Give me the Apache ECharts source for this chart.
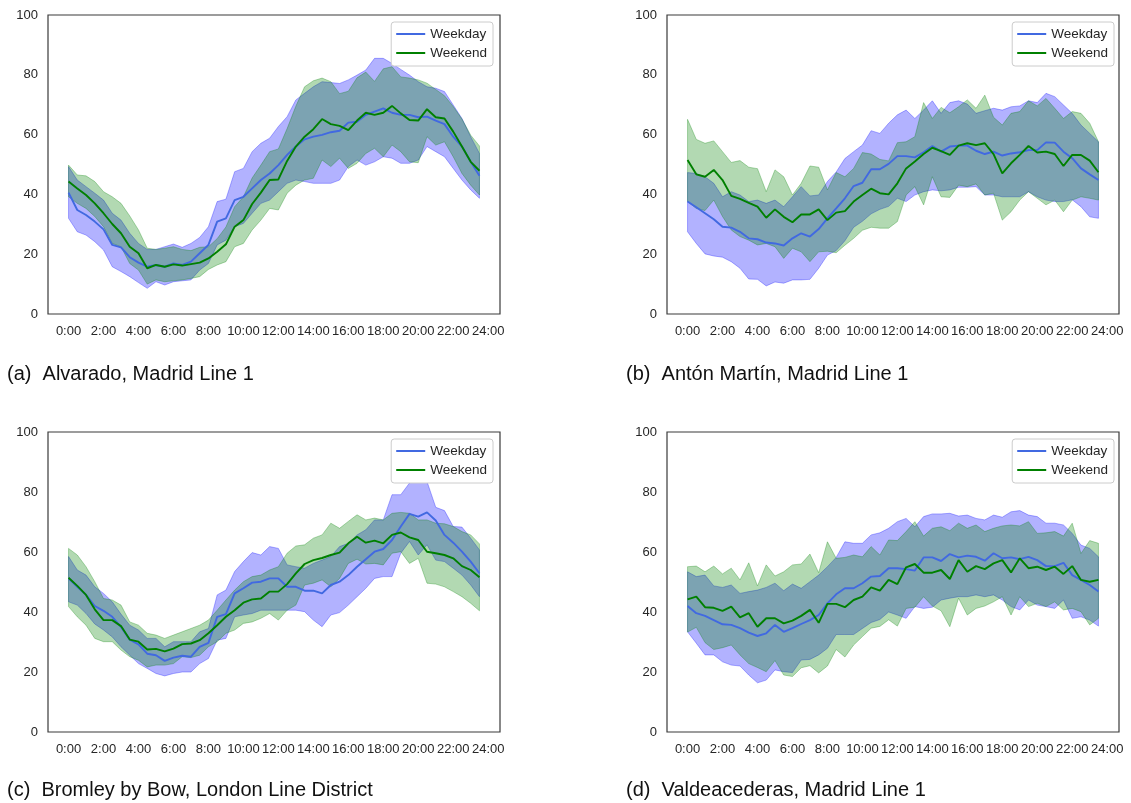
<!DOCTYPE html>
<html>
<head>
<meta charset="utf-8">
<script src="https://cdn.jsdelivr.net/npm/echarts@6/dist/echarts.min.js"></script>
<style>
html,body{margin:0;padding:0;background:#fff;}
#chart{width:1131px;height:803px;}
</style>
</head>
<body>
<div id="chart"></div>
<script>
// x tick labels (every 4 half-hour slots = 2 h)
const hourLabels = ['0:00','2:00','4:00','6:00','8:00','10:00','12:00','14:00','16:00','18:00','20:00','22:00','24:00'];
const captions = ['(a)  Alvarado, Madrid Line 1','(b)  Antón Martín, Madrid Line 1','(c)  Bromley by Bow, London Line District','(d)  Valdeacederas, Madrid Line 1'];

// Panel (a)
const aWdMean = [40.6,34.8,33.1,30.9,28.3,23.1,22.3,19.0,17.2,15.8,16.4,15.8,16.9,16.4,17.5,20.3,23.1,30.9,32.0,38.1,39.2,42.0,44.8,47.0,49.8,53.2,56.0,58.4,59.3,59.9,60.8,61.3,64.0,64.3,66.6,67.7,68.8,67.3,66.6,66.6,65.8,66.0,64.7,63.5,59.3,56.0,50.9,46.2];
const aWdLow  = [32.0,27.5,26.4,24.2,21.4,15.8,14.2,12.5,10.5,8.6,10.8,9.7,10.8,11.1,11.4,14.7,16.9,23.1,24.7,29.2,30.3,33.7,37.0,38.1,40.9,43.7,44.8,44.3,43.7,43.7,43.7,44.8,49.3,51.5,49.8,50.9,52.6,52.1,50.4,50.4,51.5,56.0,54.3,52.6,48.7,44.8,41.5,38.7];
const aWdHigh = [49.3,44.8,42.6,40.4,38.1,33.7,31.4,27.0,23.6,21.6,21.6,22.5,23.4,22.3,23.6,25.6,29.2,37.6,38.4,47.6,48.7,54.3,57.1,58.8,62.7,66.0,71.6,73.8,76.0,77.7,77.4,77.1,78.3,79.9,81.6,85.5,85.5,83.8,81.8,79.9,77.7,76.0,75.5,74.4,69.9,65.4,59.3,53.7];
const aWeMean = [44.3,42.0,39.8,37.0,33.7,30.1,27.0,22.5,20.3,15.3,16.4,15.8,16.6,16.2,16.7,17.2,18.6,20.8,23.3,29.2,31.4,36.8,40.6,44.8,45.0,51.2,56.0,59.3,61.8,65.2,63.5,62.9,61.5,64.7,67.3,66.6,67.3,69.6,67.1,64.9,64.7,68.5,65.8,65.4,61.0,56.0,50.9,47.9];
const aWeLow  = [39.2,37.0,35.3,32.6,29.2,23.6,22.5,16.9,14.7,10.0,11.4,10.8,11.1,11.4,11.9,12.5,14.9,16.4,17.5,22.5,23.6,28.1,31.4,35.3,34.8,40.4,43.1,44.8,45.4,51.5,49.3,52.1,48.7,50.4,53.7,55.4,52.6,56.5,54.3,50.9,50.6,59.3,56.5,57.6,52.6,47.0,43.1,39.8];
const aWeHigh = [49.8,46.5,46.2,44.3,40.9,39.2,37.0,32.8,28.1,22.0,21.6,22.0,22.5,21.6,21.2,22.3,22.5,25.2,29.1,35.9,39.2,45.5,49.8,54.3,55.2,62.0,69.5,76.0,78.0,78.9,77.7,73.7,74.5,79.0,80.9,77.8,82.0,82.7,79.3,78.9,78.3,77.2,75.1,73.0,69.4,65.2,59.8,56.2];

// Panel (b)
const bWdMean = [37.6,35.7,33.7,31.7,29.2,28.9,27.5,25.3,25.0,23.9,23.6,22.9,25.3,27.0,25.9,28.4,32.0,35.3,38.7,42.8,43.9,48.4,48.4,50.2,52.8,52.8,52.4,54.1,56.2,54.3,56.0,56.3,56.3,54.6,53.5,54.3,53.0,53.7,54.1,54.8,54.8,57.4,57.3,54.3,52.1,48.7,46.7,44.8];
const bWdLow  = [27.5,23.6,20.1,19.4,19.0,17.5,15.3,11.7,11.6,9.4,10.7,10.3,11.4,11.4,11.6,15.3,19.7,21.2,24.5,29.0,31.0,33.5,35.0,36.0,38.7,37.6,39.8,40.9,41.5,41.2,41.5,42.4,42.4,42.6,39.8,39.8,39.2,39.2,39.2,40.9,39.2,38.1,37.6,37.6,38.2,35.9,32.5,32.0];
const bWdHigh = [47.3,47.0,45.9,43.7,39.2,40.9,39.8,37.6,38.1,37.0,38.1,35.9,39.2,42.6,39.5,39.8,44.3,47.5,52.0,54.3,56.5,61.3,60.4,63.8,66.6,68.2,65.4,68.2,71.3,67.1,70.7,71.3,70.2,67.1,68.0,68.8,68.2,69.3,69.6,71.3,70.7,73.8,72.7,69.9,67.1,63.2,60.4,57.6];
const bWeMean = [51.5,46.7,45.9,48.2,44.8,39.5,38.5,37.2,35.9,32.2,35.0,32.5,30.7,33.3,33.3,35.0,31.4,33.9,34.4,37.6,39.8,41.9,40.4,40.0,43.7,48.7,51.0,53.5,55.6,54.5,53.2,56.3,57.1,56.5,57.1,53.5,47.0,50.4,53.2,56.2,54.0,54.3,53.5,49.5,53.2,53.2,51.3,47.4];
const bWeLow  = [37.6,35.3,34.6,38.1,32.6,28.1,25.9,24.7,23.1,23.6,22.5,18.6,22.0,20.8,17.5,20.8,21.0,20.5,23.0,25.3,28.0,29.0,28.7,28.7,30.9,39.8,42.6,36.5,45.9,39.2,39.0,43.1,42.6,43.5,39.8,40.4,31.4,34.2,38.1,40.9,38.7,36.5,38.1,34.2,38.1,39.2,38.7,38.1];
const bWeHigh = [65.1,58.4,57.1,57.9,54.3,50.7,51.3,49.1,48.6,40.9,48.2,45.9,39.8,43.7,49.5,49.1,41.5,47.3,45.9,48.7,54.0,53.5,51.7,51.2,57.3,57.6,59.3,70.7,65.4,69.1,67.3,69.3,71.6,68.8,73.2,65.8,63.2,67.1,67.7,71.3,69.6,72.1,68.8,65.4,67.7,67.1,63.8,57.6];

// Panel (c)
const cWdMean = [51.2,48.4,45.7,42.0,40.4,38.4,35.0,30.8,29.2,26.1,25.6,23.7,24.8,25.4,25.1,28.4,29.7,38.4,39.3,46.2,47.9,49.8,50.1,51.2,51.2,48.4,48.4,47.1,47.1,46.2,49.0,50.1,52.3,55.1,57.6,60.1,61.0,64.0,68.5,72.7,71.8,73.2,70.5,65.7,63.1,60.1,56.8,52.9];
const cWdLow  = [43.4,42.3,39.5,36.0,34.0,31.7,28.4,25.6,22.8,21.2,19.5,18.7,19.5,20.0,20.0,22.8,24.5,30.6,31.2,38.4,39.0,39.5,40.6,40.6,40.6,40.6,40.6,40.1,37.3,35.1,39.0,39.8,42.3,45.1,47.9,51.2,51.8,51.8,59.6,63.5,59.0,62.4,57.3,56.8,54.6,52.3,49.0,45.1];
const cWdHigh = [58.5,54.0,52.3,48.4,46.2,43.4,39.3,35.6,34.0,31.2,31.2,28.4,30.1,30.1,30.1,33.4,34.5,45.7,47.3,53.5,56.8,59.8,59.0,61.8,61.2,55.7,55.1,54.6,56.2,57.3,58.5,61.8,62.9,65.7,67.4,70.7,70.7,79.1,79.1,83.0,84.6,83.5,74.9,73.8,68.5,68.3,64.6,60.7];
const cWeMean = [51.4,48.7,45.7,40.9,37.3,37.3,35.3,30.8,30.1,27.5,27.7,26.9,27.8,29.3,29.5,30.6,32.9,35.6,38.4,40.6,43.1,44.2,44.5,46.8,46.8,49.3,52.9,56.0,57.3,58.0,59.0,59.8,62.9,65.1,63.1,63.8,62.9,65.7,66.5,64.9,64.0,60.1,59.6,59.0,57.9,55.3,54.0,51.6];
const cWeLow  = [41.8,38.4,35.6,31.2,30.1,30.1,27.3,25.1,23.9,21.7,22.3,22.3,22.8,25.1,24.8,25.6,28.4,30.1,32.9,34.0,36.2,36.7,37.9,39.5,37.3,40.6,42.3,49.0,49.6,50.7,48.4,51.2,56.2,57.6,56.0,56.2,55.7,59.6,60.1,56.2,57.9,49.6,49.3,48.4,46.8,45.1,42.9,40.4];
const cWeHigh = [61.2,59.0,55.1,50.1,44.5,44.0,42.3,36.7,35.6,32.9,32.3,31.2,32.3,33.4,34.5,35.6,37.3,40.6,44.0,47.3,50.1,51.8,52.3,54.0,55.1,59.6,62.0,62.4,64.6,65.7,69.6,67.9,70.2,72.4,70.7,71.3,70.7,72.9,73.2,72.9,70.7,70.7,69.6,69.4,68.5,66.8,65.7,62.7];

// Panel (d)
const dWdMean = [42.0,39.6,38.7,37.3,35.9,35.7,34.6,33.1,32.0,32.9,35.7,33.4,34.6,36.0,37.3,39.0,42.9,45.9,47.9,47.9,49.6,51.8,52.0,54.6,54.6,54.3,53.8,58.2,58.2,57.0,59.3,58.2,58.8,58.4,57.1,59.6,57.9,58.2,57.6,58.4,57.3,55.3,55.3,56.4,52.3,50.7,49.0,46.8];
const dWdLow  = [33.4,29.6,25.7,25.7,23.4,22.3,22.0,19.0,16.4,17.3,20.7,20.1,19.8,24.0,24.2,25.7,27.9,32.5,32.5,32.5,34.5,36.5,37.5,40.0,39.0,37.9,41.8,41.2,41.6,44.0,44.6,45.1,45.1,45.7,45.1,45.7,44.0,41.8,40.7,44.0,42.3,41.8,41.2,44.0,37.9,38.4,37.3,35.3];
const dWdHigh = [53.4,51.8,52.3,48.7,48.2,49.0,46.2,46.8,47.3,48.2,49.6,47.1,49.3,47.9,50.1,52.3,55.1,58.2,63.4,62.9,62.9,65.7,66.4,67.9,70.1,71.2,68.4,71.8,72.7,72.7,72.9,72.0,72.3,71.2,70.7,72.3,71.6,73.4,73.8,72.3,71.8,69.6,69.6,69.0,66.2,62.3,61.2,58.4];
const dWeMean = [44.2,45.1,41.6,41.4,40.4,41.8,38.2,39.6,35.1,37.9,37.9,36.2,37.1,38.7,40.7,36.4,42.7,42.7,41.6,44.0,45.1,48.2,47.1,50.7,49.3,54.9,56.0,53.1,53.1,54.0,51.0,57.3,53.4,55.3,54.3,56.2,57.3,53.2,57.9,54.6,55.1,54.0,55.1,52.7,55.3,50.7,50.1,50.7];
const dWeLow  = [33.3,34.9,29.8,27.5,28.1,29.0,25.7,22.8,21.5,20.1,23.8,19.0,18.5,21.4,22.1,19.7,22.0,27.5,25.0,29.0,31.8,34.6,35.2,37.4,35.3,41.2,41.6,45.1,42.0,40.4,35.1,44.6,39.0,41.2,42.0,43.4,45.1,39.0,45.1,41.8,42.9,41.8,43.4,40.7,41.2,40.1,35.7,37.9];
const dWeHigh = [55.1,55.3,53.4,55.3,52.7,54.6,50.7,56.4,48.7,55.7,52.0,53.4,55.7,56.0,59.3,53.1,63.4,57.9,58.2,59.0,58.4,61.8,59.0,64.0,63.8,66.8,70.1,65.3,67.9,68.4,67.1,69.6,67.9,69.0,66.8,67.9,68.7,69.0,68.7,70.1,66.2,66.4,66.8,65.3,69.6,59.5,63.8,62.9];

const panels = [
  {wd:[aWdMean,aWdLow,aWdHigh], we:[aWeMean,aWeLow,aWeHigh]},
  {wd:[bWdMean,bWdLow,bWdHigh], we:[bWeMean,bWeLow,bWeHigh]},
  {wd:[cWdMean,cWdLow,cWdHigh], we:[cWeMean,cWeLow,cWeHigh]},
  {wd:[dWdMean,dWdLow,dWdHigh], we:[dWeMean,dWeLow,dWeHigh]}
];

const FONT = '"Liberation Sans", Arial, Helvetica, sans-serif';
const TXT = '#262626';
const WD_LINE = '#4169E1', WE_LINE = '#008000';
const WD_FILL = 'rgba(0,0,255,0.3)', WE_FILL = 'rgba(0,128,0,0.3)';

const gridPos = [
  {left:48, top:15, width:452, height:299},
  {left:667, top:15, width:452, height:299},
  {left:48, top:432, width:452, height:300},
  {left:667, top:432, width:452, height:300}
];
const legendPos = [
  {right:638, top:22}, {right:17, top:22}, {right:638, top:439}, {right:17, top:439}
];
const captionPos = [{x:7,y:374},{x:626,y:374},{x:7,y:790},{x:626,y:790}];

function bandRenderer(low, high, color) {
  return function (params, api) {
    if (params.dataIndex !== 0) return null;
    const pts = [];
    for (let i = 0; i < high.length; i++) pts.push(api.coord([i, high[i]]));
    for (let i = low.length - 1; i >= 0; i--) pts.push(api.coord([i, low[i]]));
    return {type:'polygon', shape:{points:pts}, style:{fill:color, stroke:color, lineWidth:1}};
  };
}

const grids = [], xAxes = [], yAxes = [], series = [], legends = [], graphics = [];
panels.forEach((p, k) => {
  grids.push(Object.assign({show:true, borderColor:'#3a3a3a', borderWidth:1.2, backgroundColor:'transparent', containLabel:false}, gridPos[k]));
  xAxes.push({
    type:'value', gridIndex:k, min:-2.35, max:49.35,
    axisLine:{show:false}, axisTick:{show:false}, splitLine:{show:false},
    axisLabel:{customValues: hourLabels.map((_, j) => j*4), formatter: v => hourLabels[Math.round(v/4)],
      color:TXT, fontSize:13, fontFamily:FONT, margin:11}
  });
  yAxes.push({
    type:'value', gridIndex:k, min:0, max:100, interval:20,
    axisLine:{show:false}, axisTick:{show:false}, splitLine:{show:false},
    axisLabel:{color:TXT, fontSize:13, fontFamily:FONT, margin:10}
  });
  const groups = [['Weekday', p.wd, WD_LINE, WD_FILL], ['Weekend', p.we, WE_LINE, WE_FILL]];
  groups.forEach(([name, arrs, lc, fc]) => {
    const [mean, low, high] = arrs;
    series.push({
      type:'custom', name: name + ' band', xAxisIndex:k, yAxisIndex:k, silent:true, z:1,
      data: low.map((l, i) => [i, l, high[i]]),
      encode:{x:0, y:[1,2]},
      renderItem: bandRenderer(low, high, fc)
    });
  });
  groups.forEach(([name, arrs, lc]) => {
    series.push({
      type:'line', name, xAxisIndex:k, yAxisIndex:k, z:5,
      data: arrs[0].map((v, i) => [i, v]),
      showSymbol:false, symbol:'none', animation:false,
      lineStyle:{color:lc, width:1.9}, itemStyle:{color:lc}
    });
  });
  legends.push(Object.assign({
    data:['Weekday','Weekend'], orient:'vertical', icon:'rect', itemWidth:29, itemHeight:2,
    itemGap:5, itemTextGap:10, padding:[5,6,6,5], backgroundColor:'#fff',
    borderColor:'#cccccc', borderWidth:1, borderRadius:3, selectedMode:false,
    textStyle:{color:TXT, fontSize:13.5, fontFamily:FONT}
  }, legendPos[k]));
  graphics.push({
    type:'text', x:captionPos[k].x, y:captionPos[k].y,
    style:{text:captions[k], font:'20px ' + FONT, fill:'#111', verticalAlign:'middle', textVerticalAlign:'middle'}
  });
});

const chart = echarts.init(document.getElementById('chart'), null, {renderer:'canvas'});
chart.setOption({
  animation:false,
  backgroundColor:'#fff',
  grid:grids, xAxis:xAxes, yAxis:yAxes, series, legend:legends, graphic:graphics
});
</script>
</body>
</html>
